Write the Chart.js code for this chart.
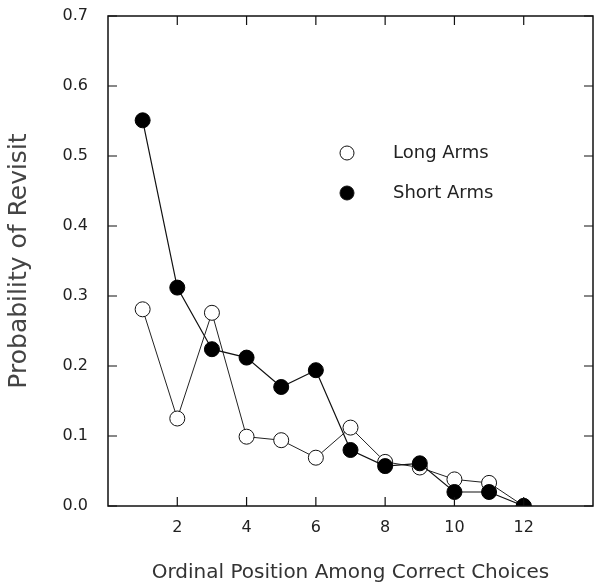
<!DOCTYPE html>
<html>
<head>
<meta charset="utf-8">
<script src="https://cdn.jsdelivr.net/npm/chart.js@4/dist/chart.umd.min.js"></script>
<style>
  html, body { margin: 0; padding: 0; background: #fff; }
  #wrap { width: 602px; height: 585px; }
</style>
</head>
<body>
<div id="wrap"><canvas id="revisitChart" width="602" height="585"></canvas></div>
<script>
// ordinal positions
var positions = [1, 2, 3, 4, 5, 6, 7, 8, 9, 10, 11, 12];
// probability of revisit
var longArms  = [0.281, 0.125, 0.276, 0.099, 0.094, 0.069, 0.112, 0.063, 0.055, 0.038, 0.033, 0.0];
var shortArms = [0.551, 0.312, 0.224, 0.212, 0.170, 0.194, 0.080, 0.057, 0.061, 0.020, 0.020, 0.0];
var xTicks = [2, 4, 6, 8, 10, 12];
var yTicks = [0, 0.1, 0.2, 0.3, 0.4, 0.5, 0.6, 0.7];

function toPoints(values) {
    return positions.map(function (p, i) { return { x: p, y: values[i] }; });
}

// ticks pointing inward on all four sides, plus the in-plot legend
var framePlugin = {
    id: 'frame',
    afterDraw: function (chart) {
        var ctx = chart.ctx;
        var a = chart.chartArea;
        var xs = chart.scales.x, ys = chart.scales.y;
        ctx.save();
        ctx.strokeStyle = '#111';
        ctx.lineWidth = 1.5;
        ctx.strokeRect(a.left, a.top, a.right - a.left, a.bottom - a.top);
        ctx.lineWidth = 1.2;
        xTicks.forEach(function (v) {
            var px = xs.getPixelForValue(v);
            ctx.beginPath();
            ctx.moveTo(px, a.bottom); ctx.lineTo(px, a.bottom - 9);
            ctx.moveTo(px, a.top); ctx.lineTo(px, a.top + 9);
            ctx.stroke();
        });
        yTicks.forEach(function (v) {
            var py = ys.getPixelForValue(v);
            ctx.beginPath();
            ctx.moveTo(a.left, py); ctx.lineTo(a.left + 9, py);
            ctx.moveTo(a.right, py); ctx.lineTo(a.right - 9, py);
            ctx.stroke();
        });

        // legend
        var ds = chart.data.datasets;
        ctx.font = '18px "DejaVu Sans"';
        ctx.textBaseline = 'middle';
        var rows = [153, 193];
        ds.forEach(function (d, i) {
            ctx.beginPath();
            ctx.arc(347, rows[i], 7, 0, Math.PI * 2);
            ctx.fillStyle = d.pointBackgroundColor;
            ctx.fill();
            ctx.strokeStyle = '#111';
            ctx.lineWidth = 1;
            ctx.stroke();
            ctx.fillStyle = '#222';
            ctx.fillText(d.label, 393, rows[i]);
        });
        ctx.restore();
    }
};

var ctx = document.getElementById('revisitChart').getContext('2d');
var myChart = new Chart(ctx, {
    type: 'line',
    data: {
        datasets: [
            {
                label: 'Long Arms',
                data: toPoints(longArms),
                borderColor: '#222',
                borderWidth: 1,
                pointRadius: 7.5,
                pointBackgroundColor: '#ffffff',
                pointBorderColor: '#111',
                pointBorderWidth: 1,
                tension: 0,
                order: 2
            },
            {
                label: 'Short Arms',
                data: toPoints(shortArms),
                borderColor: '#111',
                borderWidth: 1.2,
                pointRadius: 7.5,
                pointBackgroundColor: '#000000',
                pointBorderColor: '#000',
                pointBorderWidth: 1,
                tension: 0,
                order: 1
            }
        ]
    },
    plugins: [framePlugin],
    options: {
        responsive: false,
        animation: false,
        layout: { padding: { top: 16, right: 9, left: 0, bottom: 0 } },
        plugins: {
            legend: { display: false },
            tooltip: { enabled: false }
        },
        scales: {
            x: {
                type: 'linear',
                min: 0,
                max: 14,
                border: { display: false },
                grid: { display: false, drawTicks: false },
                afterBuildTicks: function (scale) {
                    scale.ticks = xTicks.map(function (v) { return { value: v }; });
                },
                ticks: {
                    padding: 12,
                    color: '#222',
                    font: { family: 'DejaVu Sans', size: 16 }
                },
                title: {
                    display: true,
                    text: 'Ordinal Position Among Correct Choices',
                    color: '#333',
                    padding: { top: 14, bottom: 0 },
                    font: { family: 'DejaVu Sans', size: 20 }
                },
                afterFit: function (scale) {
                    scale.height = 79;
                    scale.paddingLeft = 0;
                    scale.paddingRight = 0;
                }
            },
            y: {
                min: 0,
                max: 0.7,
                border: { display: false },
                grid: { display: false, drawTicks: false },
                afterBuildTicks: function (scale) {
                    scale.ticks = yTicks.map(function (v) { return { value: v }; });
                },
                ticks: {
                    padding: 20,
                    color: '#222',
                    font: { family: 'DejaVu Sans', size: 16 },
                    callback: function (v) { return v.toFixed(1); }
                },
                title: {
                    display: true,
                    text: 'Probability of Revisit',
                    color: '#444',
                    padding: { top: 4, bottom: 6 },
                    font: { family: 'DejaVu Sans', size: 25 }
                },
                afterFit: function (scale) {
                    scale.width = 108;
                    scale.paddingTop = 0;
                    scale.paddingBottom = 0;
                }
            }
        }
    }
});
</script>
</body>
</html>
